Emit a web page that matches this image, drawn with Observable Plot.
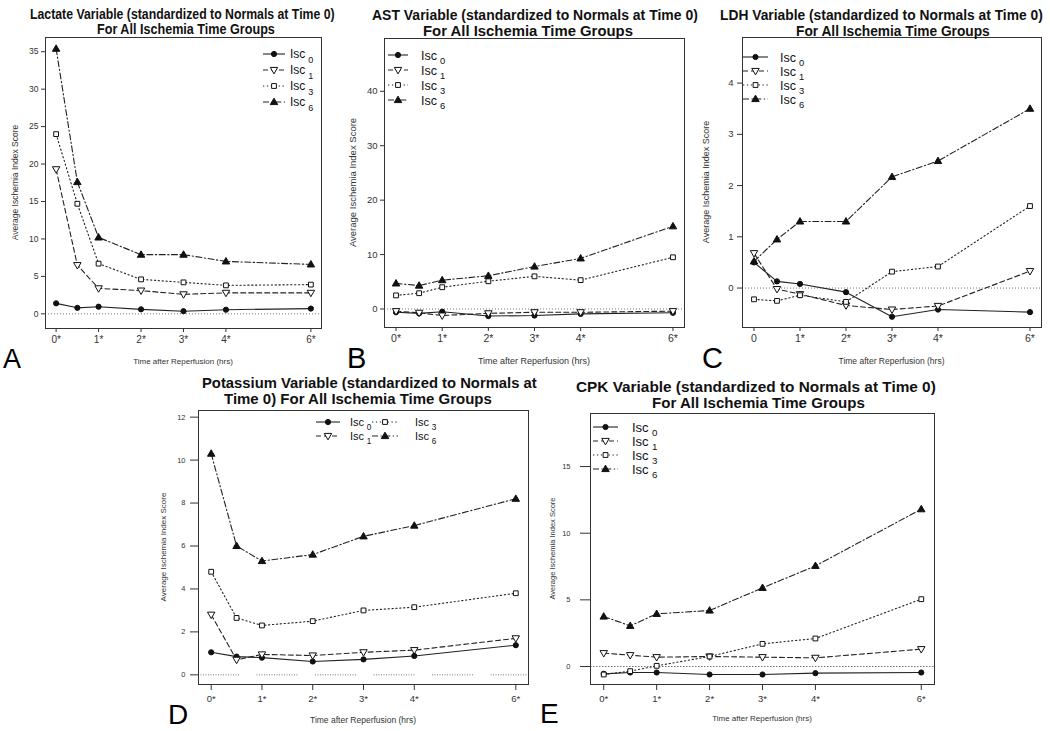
<!DOCTYPE html>
<html><head><meta charset="utf-8">
<script src="https://cdn.jsdelivr.net/npm/d3@7"></script>
<script src="https://cdn.jsdelivr.net/npm/@observablehq/plot@0.6"></script>
<style>
body{margin:0;background:#fff;}
#page{position:relative;width:1050px;height:731px;overflow:hidden;font-family:"Liberation Sans",Arial,sans-serif;background:#fff;}
#overlay{position:absolute;left:0;top:0;pointer-events:none;}
</style></head><body><div id="page"></div>
<script>
// ---- shared categories ----
const times = [0, 0.5, 1, 2, 3, 4, 6];
const groups = ["Isc0", "Isc1", "Isc3", "Isc6"];
const groupSub = ["0", "1", "3", "6"];
const tickTimes = [0, 1, 2, 3, 4, 6];
const tickLabelsStar = ["0*", "1*", "2*", "3*", "4*", "6*"];
const tickLabelsC = ["0", "1*", "2*", "3*", "4*", "6*"];

// ---- A: Lactate ----
const lac0 = [1.4, 0.8, 0.95, 0.6, 0.35, 0.55, 0.7];
const lac1 = [19.3, 6.5, 3.4, 3.1, 2.6, 2.8, 2.8];
const lac3 = [24.0, 14.7, 6.7, 4.6, 4.2, 3.8, 3.9];
const lac6 = [35.4, 17.6, 10.2, 7.9, 7.9, 7.0, 6.6];
const lacTicks = [0, 5, 10, 15, 20, 25, 30, 35];
// ---- B: AST ----
const ast0 = [-0.6, -0.8, -0.5, -1.3, -1.2, -0.9, -0.7];
const ast1 = [-0.4, -0.7, -1.2, -0.8, -0.6, -0.6, -0.4];
const ast3 = [2.5, 2.9, 4.0, 5.1, 6.0, 5.3, 9.5];
const ast6 = [4.7, 4.3, 5.3, 6.1, 7.8, 9.3, 15.2];
const astTicks = [0, 10, 20, 30, 40];
// ---- C: LDH ----
const ldh0 = [0.5, 0.13, 0.08, -0.08, -0.56, -0.42, -0.47];
const ldh1 = [0.68, -0.02, -0.12, -0.34, -0.42, -0.35, 0.33];
const ldh3 = [-0.22, -0.25, -0.14, -0.27, 0.32, 0.42, 1.6];
const ldh6 = [0.52, 0.95, 1.3, 1.3, 2.17, 2.48, 3.5];
const ldhTicks = [0, 1, 2, 3, 4];
// ---- D: Potassium ----
const pot0 = [1.05, 0.85, 0.8, 0.62, 0.72, 0.88, 1.38];
const pot1 = [2.8, 0.7, 0.95, 0.9, 1.05, 1.15, 1.7];
const pot3 = [4.8, 2.65, 2.3, 2.5, 3.0, 3.15, 3.8];
const pot6 = [10.3, 6.0, 5.3, 5.6, 6.45, 6.95, 8.2];
const potTicks = [0, 2, 4, 6, 8, 10, 12];
// ---- E: CPK ----
const cpk0 = [-0.55, -0.45, -0.45, -0.6, -0.6, -0.5, -0.45];
const cpk1 = [1.0, 0.85, 0.7, 0.75, 0.7, 0.65, 1.3];
const cpk3 = [-0.6, -0.35, 0.05, 0.75, 1.7, 2.1, 5.05];
const cpk6 = [3.75, 3.05, 3.95, 4.2, 5.9, 7.55, 11.8];
const cpkTicks = [0, 5, 10, 15];

const titles = {
  A: ["Lactate Variable (standardized to Normals at Time 0)", "For All Ischemia Time Groups"],
  B: ["AST Variable (standardized to Normals at Time 0)", "For All Ischemia Time Groups"],
  C: ["LDH Variable (standardized to Normals at Time 0)", "For All Ischemia Time Groups"],
  D: ["Potassium Variable (standardized to Normals at", "Time 0) For All Ischemia Time Groups"],
  E: ["CPK Variable (standardized to Normals at Time 0)", "For All Ischemia Time Groups"]
};
const yTitle = "Average Ischemia Index Score";
const xTitle = "Time after Reperfusion (hrs)";
const legendWord = "Isc";

// ---- symbols & styles ----
const triUp = {draw(ctx, size) { const w = Math.sqrt(size) * 1.2, h = w * 0.866;
  ctx.moveTo(0, -h * 0.6); ctx.lineTo(w / 2, h * 0.4); ctx.lineTo(-w / 2, h * 0.4); ctx.closePath(); }};
const triDown = {draw(ctx, size) { const w = Math.sqrt(size) * 1.2, h = w * 0.866;
  ctx.moveTo(0, h * 0.6); ctx.lineTo(w / 2, -h * 0.4); ctx.lineTo(-w / 2, -h * 0.4); ctx.closePath(); }};
const styles = {
  Isc0: {dash: null, symbol: "circle", d3sym: d3.symbolCircle, fill: "#111", r: 2.6},
  Isc1: {dash: "5,3", symbol: triDown, d3sym: triDown, fill: "#fff", r: 3.5},
  Isc3: {dash: "1.3,2.6", symbol: "square", d3sym: d3.symbolSquare, fill: "#fff", r: 2.7},
  Isc6: {dash: "6,2.5,1.3,2.5", symbol: triUp, d3sym: triUp, fill: "#111", r: 3.5}
};

function segDash() { const p = []; for (let i = 0; i < 17; i++) p.push(1, 1.5); p[p.length - 1] = 17.5; return p.join(","); }

const panels = [
  {id: "A", series: [lac0, lac1, lac3, lac6], yticks: lacTicks, xl: tickLabelsStar,
   f: {l: 45, r: 321, t: 37, b: 328}, ydom: [-1.96, 36.9],
   yts: 4, ytp: 3, yfs: 8.5, xts: 4, xtp: 3, xfs: 10, zeroDash: "1,2",
   title: {fs: 14.5, base: [19, 33.5], ext: [[30, 335], [97, 275]]},
   letter: {x: 3, y: 368, fs: 27},
   ytl: {x: 15, fs: 8.5}, xtl: {y: 364, fs: 8},
   legend: {rows: [54, 70, 86, 102], cols: [[263, 285, 290]], pos: [[0, 0], [0, 1], [0, 2], [0, 3]], fs: 12}},
  {id: "B", series: [ast0, ast1, ast3, ast6], yticks: astTicks, xl: tickLabelsStar,
   f: {l: 384, r: 684, t: 38, b: 327}, ydom: [-3.4, 49.7],
   yts: 4, ytp: 3, yfs: 9.5, xts: 4, xtp: 3, xfs: 10.5, zeroDash: "1,2",
   title: {fs: 15.5, base: [20, 35.5], ext: [[372, 698], [423, 633]]},
   letter: {x: 347, y: 368, fs: 29},
   ytl: {x: 353, fs: 9.5}, xtl: {y: 364, fs: 9},
   legend: {rows: [55, 70, 85, 100], cols: [[388, 408, 421]], pos: [[0, 0], [0, 1], [0, 2], [0, 3]], fs: 12.5}},
  {id: "C", series: [ldh0, ldh1, ldh3, ldh6], yticks: ldhTicks, xl: tickLabelsC,
   f: {l: 742, r: 1041, t: 37, b: 327}, ydom: [-0.77, 4.89],
   yts: 5, ytp: 4, yfs: 9.5, xts: 4, xtp: 3, xfs: 10.5, zeroDash: "1,2",
   title: {fs: 15.5, base: [20, 35.5], ext: [[720, 1043], [796, 990]]},
   letter: {x: 702, y: 368, fs: 29},
   ytl: {x: 706, fs: 9}, xtl: {y: 364, fs: 8.5},
   legend: {rows: [57, 71, 85, 99], cols: [[743, 768, 780]], pos: [[0, 0], [0, 1], [0, 2], [0, 3]], fs: 12.5}},
  {id: "D", series: [pot0, pot1, pot3, pot6], yticks: potTicks, xl: tickLabelsStar,
   f: {l: 198, r: 528, t: 410, b: 684}, ydom: [-0.45, 12.31],
   yts: 8, ytp: 5, yfs: 7.5, xts: 6, xtp: 5, xfs: 9.5, zeroDash: segDash(),
   title: {fs: 15, base: [388, 403.5], ext: [[202, 537], [224, 492]]},
   letter: {x: 168, y: 724, fs: 28},
   ytl: {x: 163, fs: 8}, xtl: {y: 723, fs: 8.5},
   legend: {rows: [422, 436], cols: [[316, 340, 350], [372, 398, 415]], pos: [[0, 0], [0, 1], [1, 0], [1, 1]], fs: 11}},
  {id: "E", series: [cpk0, cpk1, cpk3, cpk6], yticks: cpkTicks, xl: tickLabelsStar,
   f: {l: 590, r: 934, t: 413, b: 684}, ydom: [-1.35, 18.98],
   yts: 10, ytp: 10, yfs: 7.5, xts: 6, xtp: 5, xfs: 9.5, zeroDash: "1.5,1.5",
   title: {fs: 15.5, base: [392, 407.5], ext: [[576, 936], [652, 865]]},
   letter: {x: 540, y: 723, fs: 28},
   ytl: {x: 552, fs: 7.5}, xtl: {y: 721, fs: 8},
   legend: {rows: [427, 441, 455, 469], cols: [[593, 618, 632]], pos: [[0, 0], [0, 1], [0, 2], [0, 3]], fs: 13}}
];

const page = document.getElementById("page");
const FONT = "Liberation Sans, Arial, sans-serif";

for (const p of panels) {
  const rows = [];
  p.series.forEach((vals, gi) => vals.forEach((v, i) => rows.push({t: times[i], v, g: groups[gi]})));
  const f = p.f, mL = 60, mR = 8, mT = 8, mB = 34;
  const W = f.r - f.l, H = f.b - f.t;
  const chart = Plot.plot({
    width: W + mL + mR, height: H + mT + mB,
    marginLeft: mL, marginRight: mR, marginTop: mT, marginBottom: mB,
    style: {background: "transparent", fontFamily: FONT, color: "#333", overflow: "visible"},
    x: {domain: [-0.25, 6.25]},
    y: {domain: p.ydom},
    marks: [
      Plot.ruleY([0], {stroke: "#777", strokeWidth: 1, strokeDasharray: p.zeroDash}),
      ...groups.map(g => Plot.line(rows.filter(d => d.g === g), {x: "t", y: "v", stroke: "#222", strokeWidth: 1.1, strokeDasharray: styles[g].dash})),
      ...groups.map(g => Plot.dot(rows.filter(d => d.g === g), {x: "t", y: "v", symbol: styles[g].symbol, r: styles[g].r, fill: styles[g].fill, stroke: "#111", strokeWidth: 1})),
      Plot.frame({stroke: "#333", strokeWidth: 1}),
      Plot.axisX(tickTimes, {tickFormat: d => p.xl[tickTimes.indexOf(d)], tickSize: p.xts, tickPadding: p.xtp, fontSize: p.xfs, label: null, stroke: "#333"}),
      Plot.axisY(p.yticks, {tickFormat: d => String(d), tickSize: p.yts, tickPadding: p.ytp, fontSize: p.yfs, label: null, stroke: "#333"})
    ]
  });
  chart.style.position = "absolute";
  chart.style.left = (f.l - mL) + "px";
  chart.style.top = (f.t - mT) + "px";
  page.appendChild(chart);
}

// ---- overlay: titles, letters, axis titles, legends ----
const ov = d3.select(page).append("svg").attr("id", "overlay").attr("width", 1050).attr("height", 731)
  .style("font-family", FONT);

for (const p of panels) {
  const f = p.f;
  titles[p.id].forEach((line, i) => {
    const [x0, x1] = p.title.ext[i];
    const t = ov.append("text").attr("x", 0).attr("y", 0)
      .attr("font-size", p.title.fs).attr("font-weight", "bold").attr("fill", "#111").text(line);
    const natural = t.node().getComputedTextLength();
    const sx = (x1 - x0) / natural;
    t.attr("transform", `translate(${x0},${p.title.base[i]}) scale(${sx},1)`);
  });
  ov.append("text").attr("x", p.letter.x).attr("y", p.letter.y).attr("font-size", p.letter.fs).attr("fill", "#000").text(p.id);
  ov.append("text").attr("transform", `translate(${p.ytl.x},${(f.t + f.b) / 2}) rotate(-90)`)
    .attr("text-anchor", "middle").attr("dy", "0.35em").attr("font-size", p.ytl.fs).attr("fill", "#333").text(yTitle);
  ov.append("text").attr("x", (f.l + f.r) / 2).attr("y", p.xtl.y).attr("text-anchor", "middle")
    .attr("font-size", p.xtl.fs).attr("fill", "#333").text(xTitle);
  const L = p.legend;
  groups.forEach((g, gi) => {
    const [ci, ri] = L.pos[gi];
    const [x1, x2, tx] = L.cols[ci];
    const y = L.rows[ri];
    const st = styles[g];
    const ln = ov.append("line").attr("x1", x1).attr("x2", x2).attr("y1", y).attr("y2", y)
      .attr("stroke", "#222").attr("stroke-width", 1.1);
    if (st.dash) ln.attr("stroke-dasharray", st.dash);
    ov.append("path").attr("transform", `translate(${(x1 + x2) / 2},${y})`)
      .attr("d", d3.symbol().type(st.d3sym).size(Math.PI * st.r * st.r)())
      .attr("fill", st.fill).attr("stroke", "#111").attr("stroke-width", 1);
    const t = ov.append("text").attr("x", tx).attr("y", y + L.fs * 0.36).attr("font-size", L.fs).attr("fill", "#111");
    t.append("tspan").text(legendWord);
    t.append("tspan").attr("font-size", L.fs * 0.75).attr("dx", L.fs * 0.25).attr("dy", L.fs * 0.35).text(groupSub[gi]);
  });
}
</script></body></html>
